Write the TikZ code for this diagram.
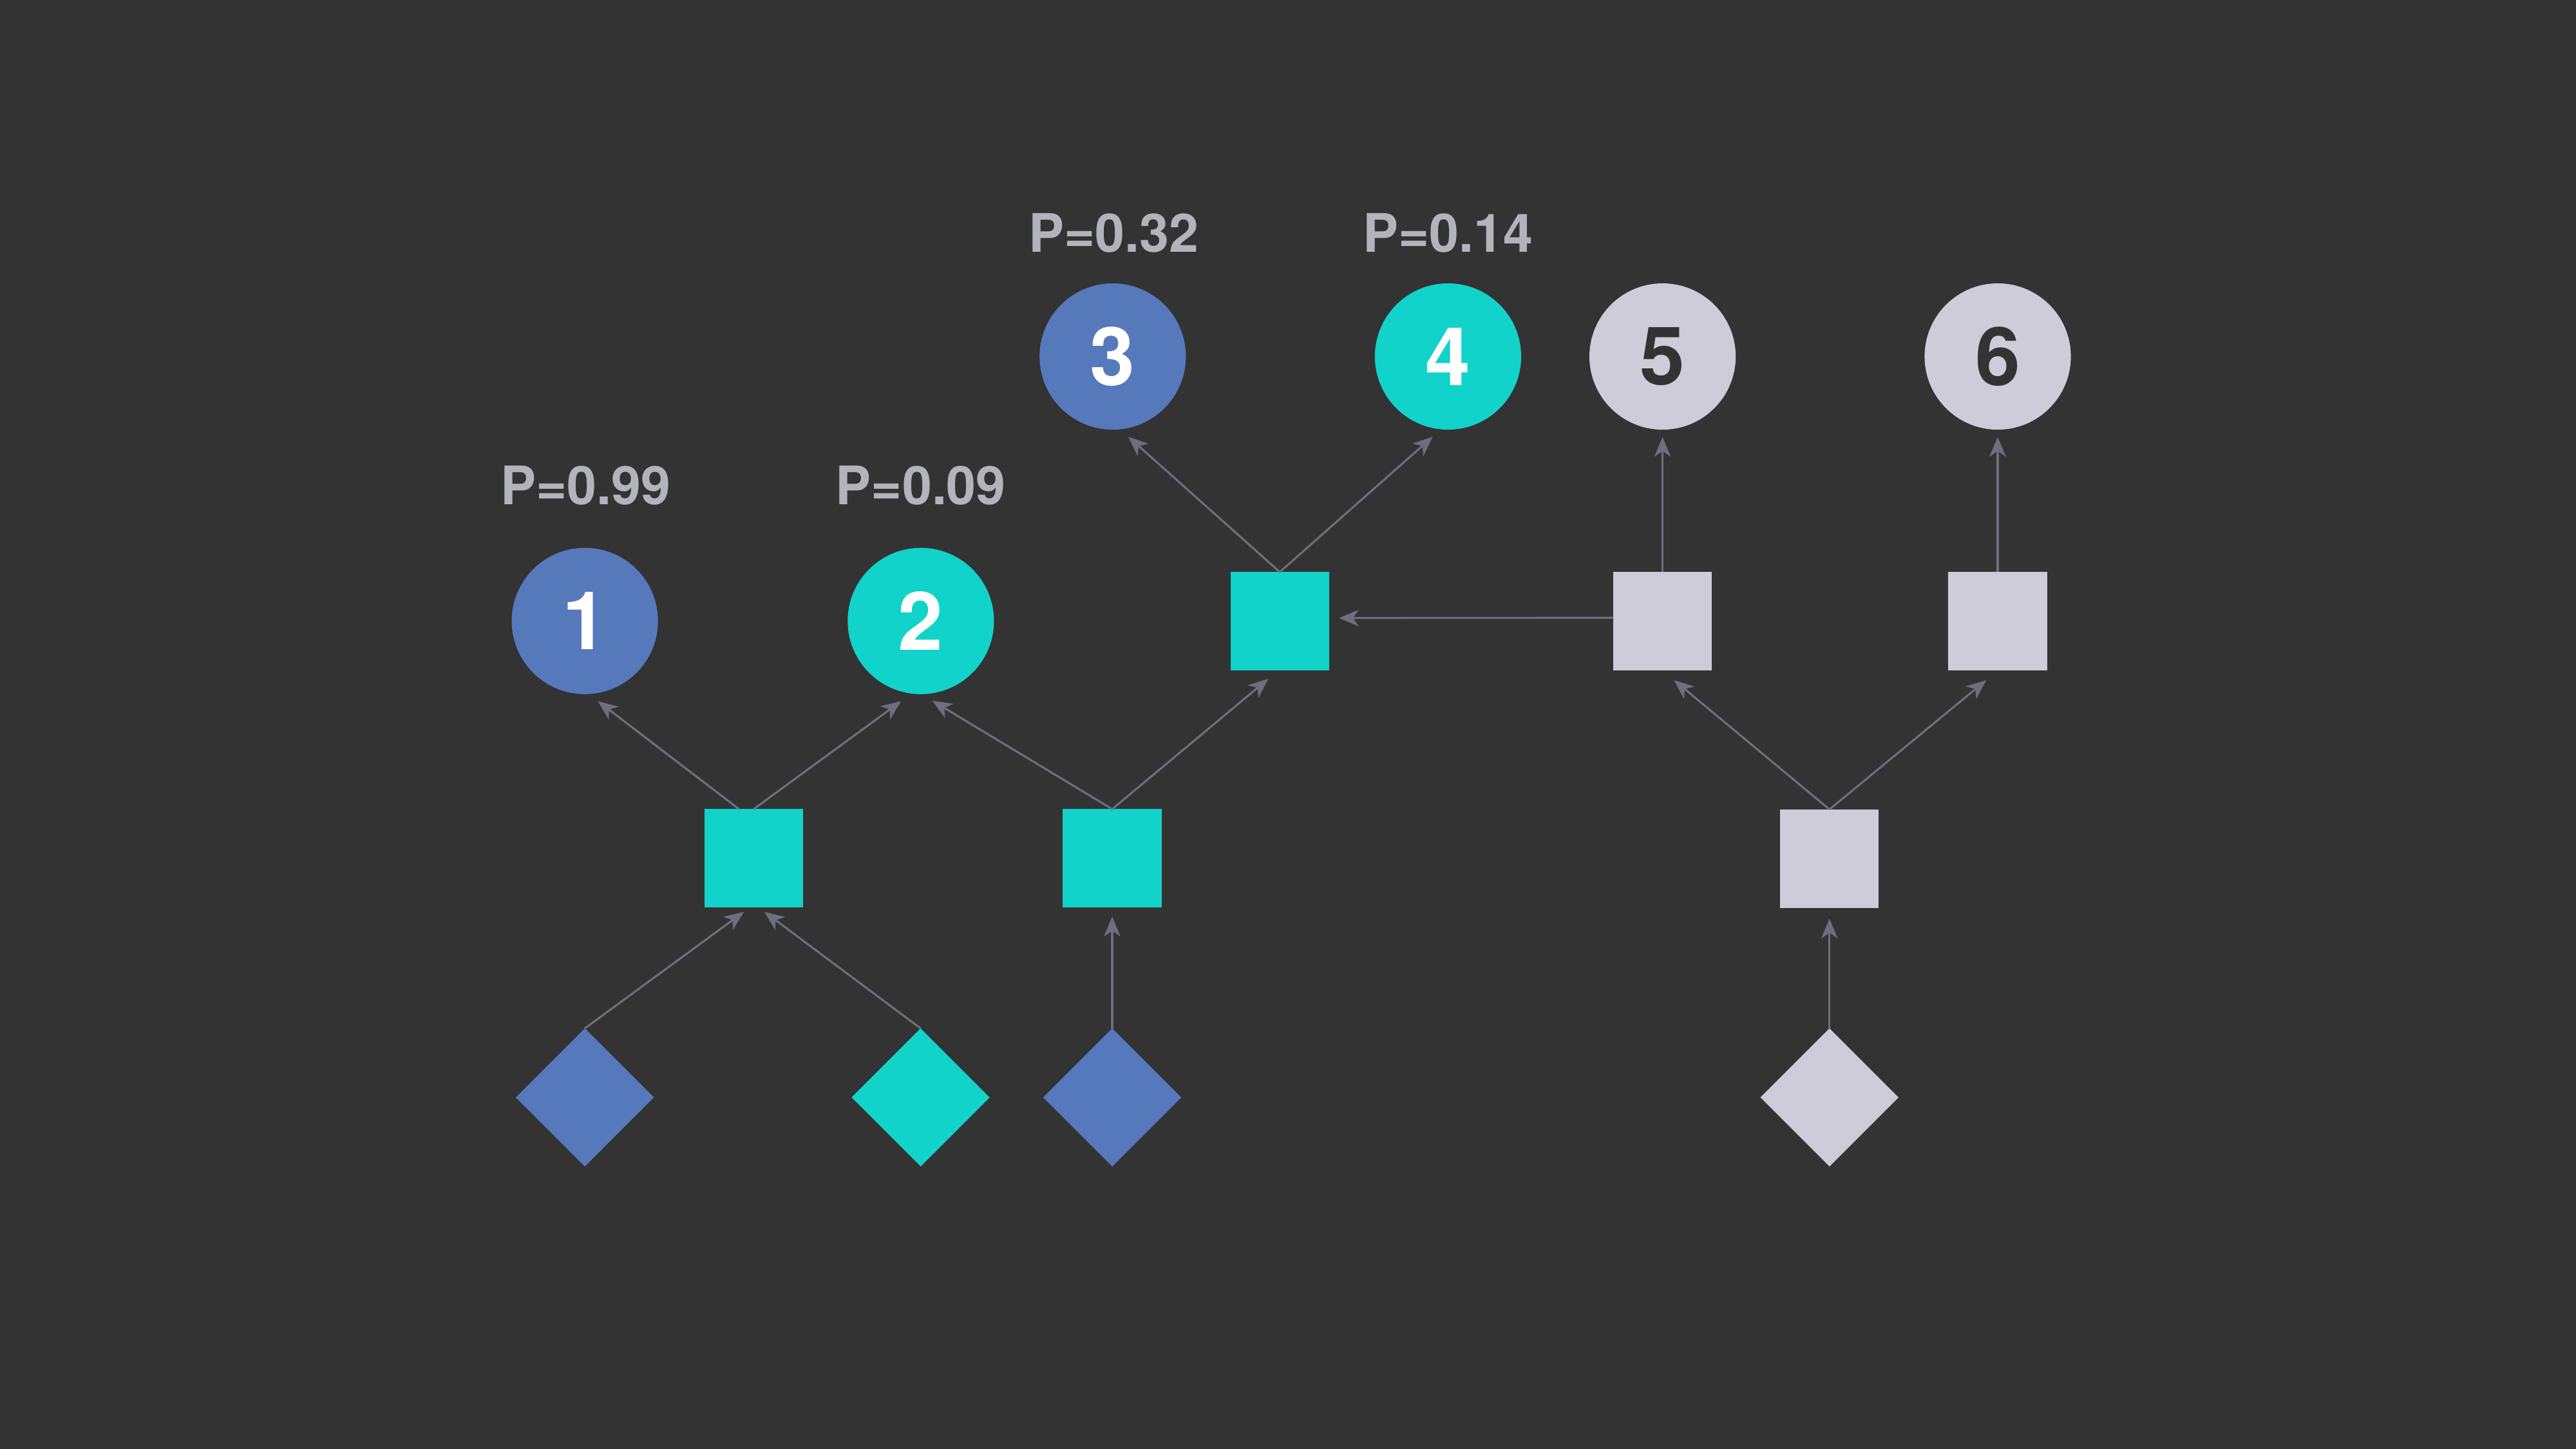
\documentclass[tikz,border=0pt]{standalone}
\usepackage{fontspec}
\setmainfont{TeX Gyre Heros}
\usetikzlibrary{arrows.meta,shapes.geometric}
\definecolor{bgdark}{HTML}{333333}
\definecolor{nodeblue}{HTML}{5679BC}
\definecolor{nodeteal}{HTML}{11D3C9}
\definecolor{nodegray}{HTML}{CFCCDA}
\definecolor{linkgray}{HTML}{6E6E7E}
\definecolor{probgray}{HTML}{B3B3BB}
\tikzset{
  leaf/.style={circle, minimum size=0.89cm, inner sep=0pt, outer sep=0pt,
    font=\fontsize{14}{15}\selectfont\bfseries},
  blueleaf/.style={leaf, fill=nodeblue, text=white},
  tealleaf/.style={leaf, fill=nodeteal, text=white},
  grayleaf/.style={leaf, fill=nodegray, text=bgdark},
  gate/.style={rectangle, minimum size=0.6cm, inner sep=0pt, outer sep=0pt},
  seed/.style={diamond, minimum width=0.84cm, minimum height=0.84cm,
    inner sep=0pt, outer sep=0pt},
  prob/.style={text=probgray, inner sep=0pt, font=\fontsize{9.2}{10}\selectfont\bfseries},
  link/.style={draw=linkgray, line width=0.35pt,
    -{Stealth[length=1.2mm, width=1mm, inset=0.35mm]}}
}
\begin{document}
\begin{tikzpicture}[x=0.01cm, y=-0.01cm]
      \fill[bgdark] (0,0) rectangle (1568,882);
      \useasboundingbox (0,0) rectangle (1568,882);
      \draw
        (356,378) node[blueleaf] (c1){1}
        (560.5,378) node[tealleaf] (c2){2}
        (677.3,217) node[blueleaf] (c3){3}
        (881.4,217) node[tealleaf] (c4){4}
        (1012,217) node[grayleaf] (c5){5}
        (1216,217) node[grayleaf] (c6){6};
      \draw
        (356.5,295.5) node[prob] (p1){P=0.99}
        (560.5,295.5) node[prob] (p2){P=0.09}
        (677.9,141.7) node[prob] (p3){P=0.32}
        (881.4,141.7) node[prob] (p4){P=0.14};
      \draw
        (458.8,522.5) node[gate, fill=nodeteal] (gA){}
        (677,522.5) node[gate, fill=nodeteal] (gB){}
        (779,378.2) node[gate, fill=nodeteal] (gC){}
        (1012,378) node[gate, fill=nodegray] (gD){}
        (1216,378) node[gate, fill=nodegray] (gE){}
        (1113.6,522.7) node[gate, fill=nodegray] (gF){};
      \draw
        (356,668) node[seed, fill=nodeblue] (s1){}
        (560.4,668) node[seed, fill=nodeteal] (s2){}
        (677,668) node[seed, fill=nodeblue] (s3){}
        (1113.6,668) node[seed, fill=nodegray] (s4){};
      \begin{scope}[link]
        \draw (s1.north) to ([shift={(-6,2.5)}]gA.south);
        \draw (s2.north) to ([shift={(6.5,2.5)}]gA.south);
        \draw (s3.north) to ([shift={(0,5.5)}]gB.south);
        \draw (s4.north) to ([shift={(0,6.5)}]gF.south);
        \draw ([shift={(-9,0)}]gA.north) to ([shift={(8,4.3)}]c1.south);
        \draw (gA.north) to ([shift={(-12,4.3)}]c2.south);
        \draw (gB.north) to ([shift={(7,4)}]c2.south);
        \draw (gB.north) to ([shift={(-7,5)}]gC.south);
        \draw (gC.north) to ([shift={(9.5,4.3)}]c3.south);
        \draw (gC.north) to ([shift={(-9.3,4.3)}]c4.south);
        \draw ([shift={(0,-2)}]gD.west) to ([shift={(6,-2)}]gC.east);
        \draw (gD.north) to ([shift={(0,4.5)}]c5.south);
        \draw (gE.north) to ([shift={(0,4.5)}]c6.south);
        \draw (gF.north) to ([shift={(7,6)}]gD.south);
        \draw (gF.north) to ([shift={(-7,6)}]gE.south);
      \end{scope}
    \end{tikzpicture}
\end{document}
